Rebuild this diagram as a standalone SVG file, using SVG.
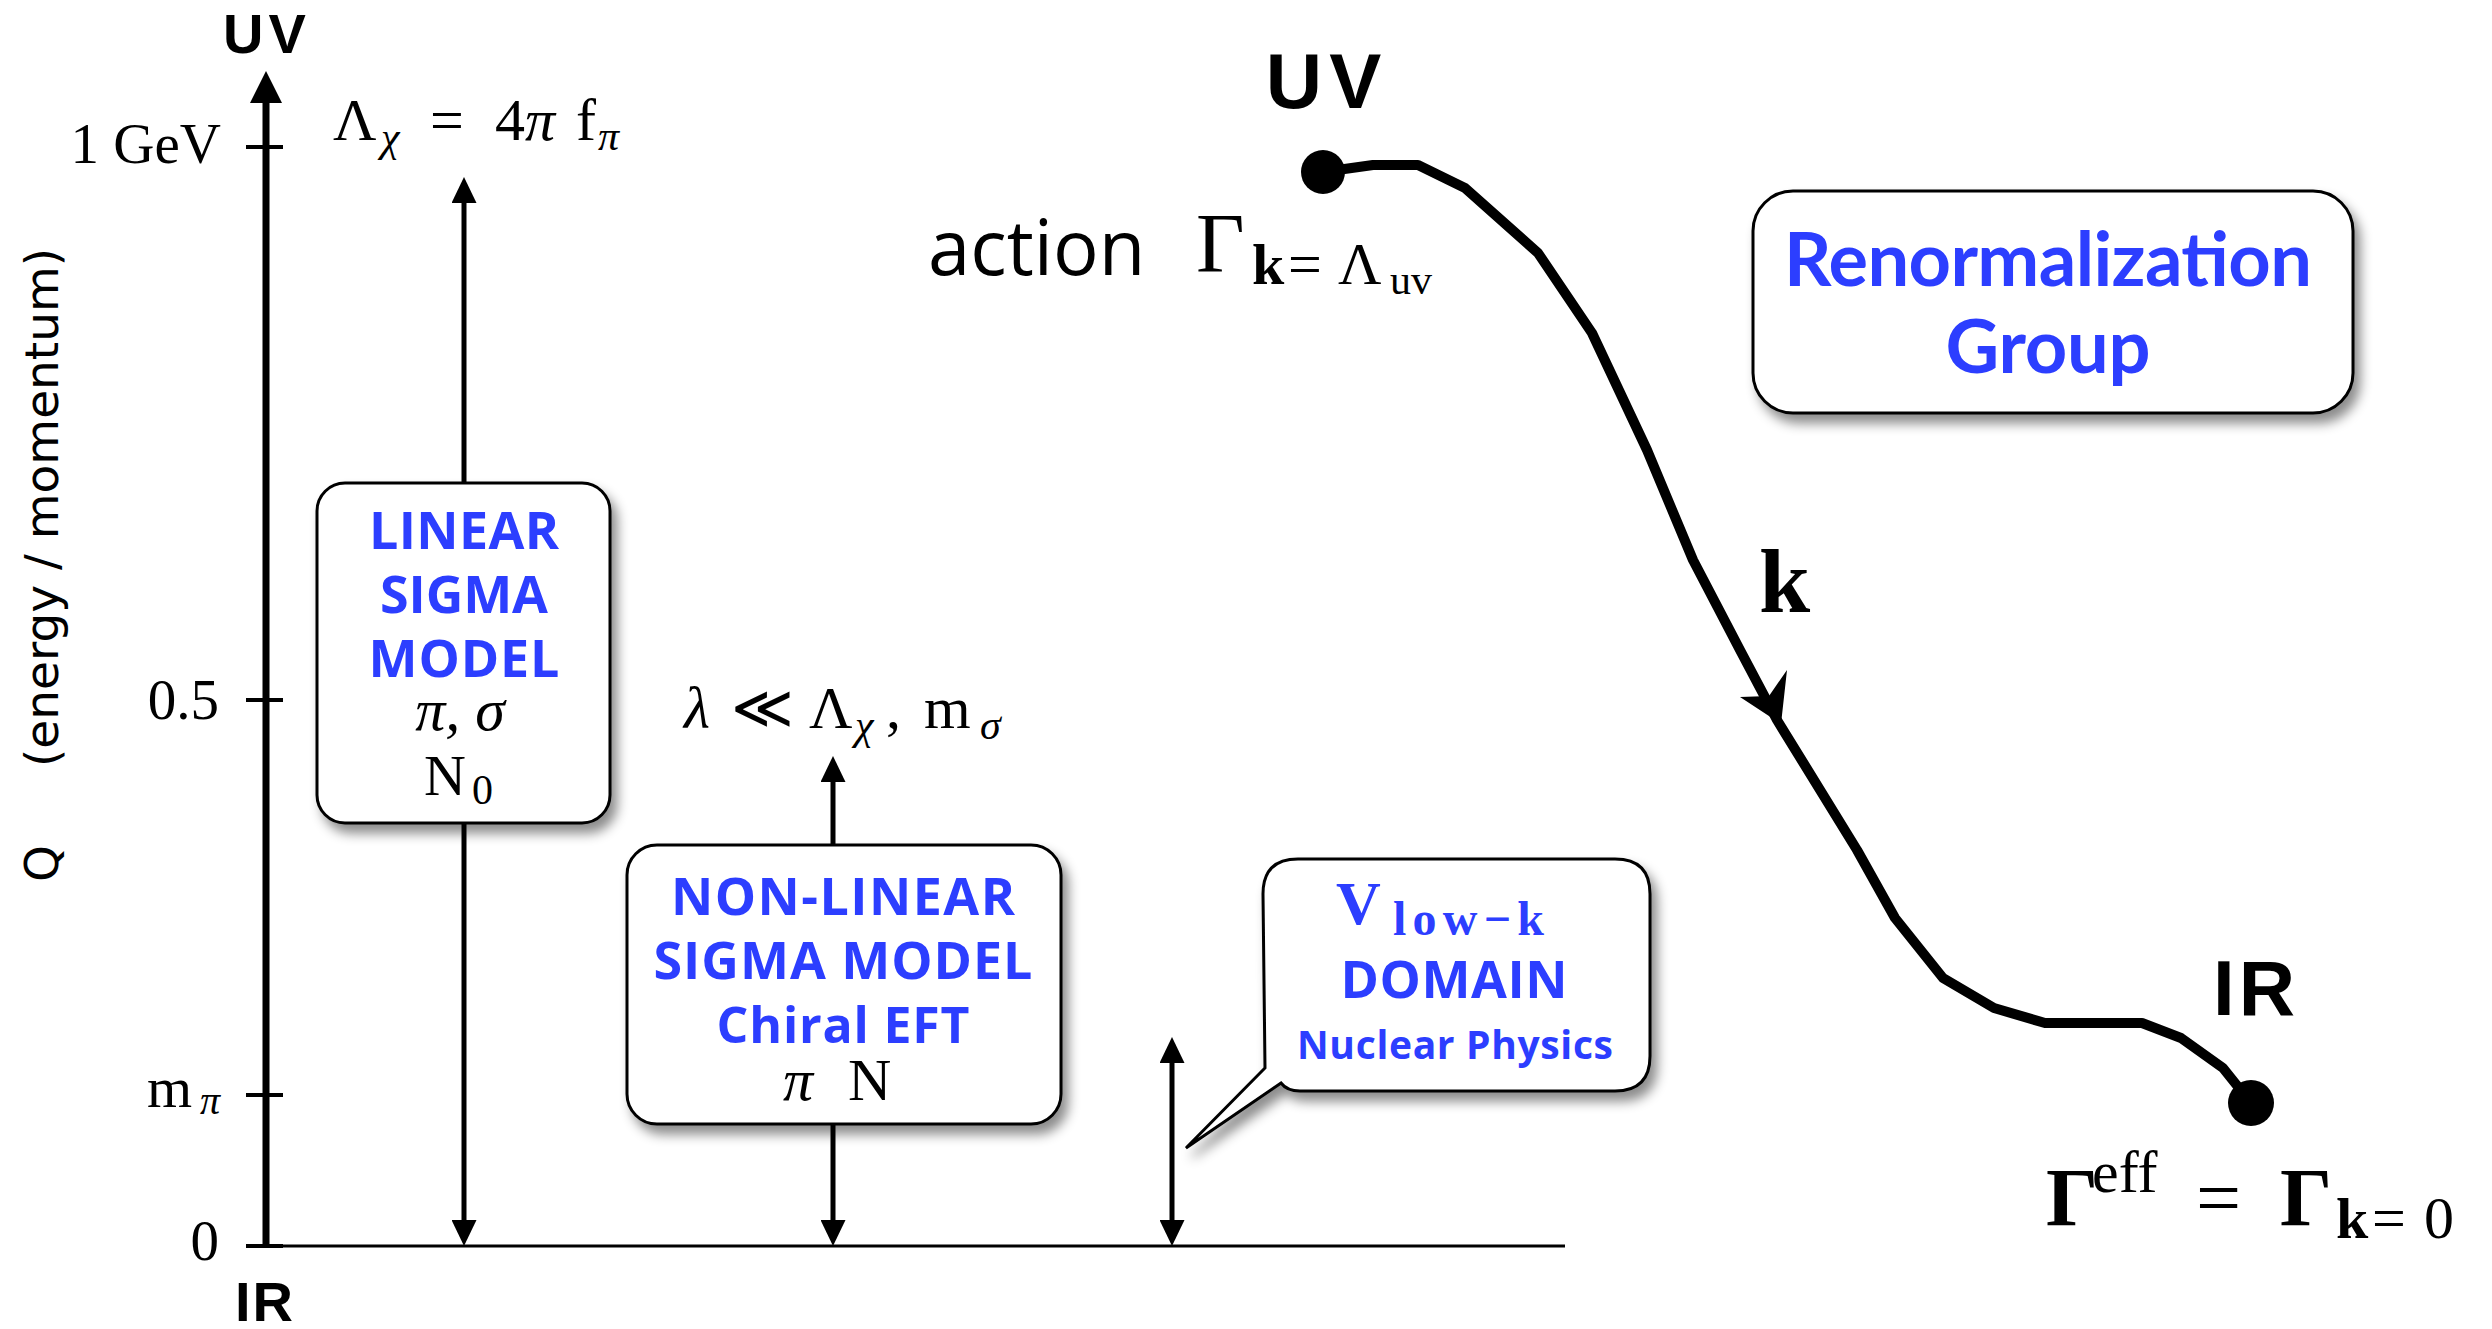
<svg xmlns="http://www.w3.org/2000/svg" width="2492" height="1329" viewBox="0 0 2492 1329">
<defs>
<style>
.ax{stroke:#000;fill:none}
.blue{fill:#2c3eff;font-family:"Open Sans",Lato,sans-serif;font-weight:700;text-anchor:middle}
.blue2{fill:#2c3eff;font-family:Lato,"Open Sans",sans-serif;font-weight:700;text-anchor:middle}
.math{font-family:"Liberation Serif","DejaVu Serif",serif;fill:#000}
.lbl{font-family:"Liberation Sans",Arial,sans-serif;font-weight:700;fill:#000;text-anchor:middle}
.box{fill:#fff;stroke:#000;stroke-width:3;filter:url(#sh)}
.tick{stroke:#000;stroke-width:4}
</style>
<filter id="sh" x="-10%" y="-10%" width="130%" height="130%"><feDropShadow dx="6" dy="9" stdDeviation="6" flood-color="#000" flood-opacity="0.45"/></filter>
<marker id="ah" markerUnits="userSpaceOnUse" markerWidth="26" markerHeight="25" refX="16" refY="12.5" orient="auto-start-reverse" viewBox="0 0 26 25"><path d="M0,0 L26,12.5 L0,25 z" fill="#000"/></marker>
<marker id="ahb" markerUnits="userSpaceOnUse" markerWidth="32" markerHeight="32" refX="22" refY="16" orient="auto-start-reverse" viewBox="0 0 32 32"><path d="M0,0 L32,16 L0,32 z" fill="#000"/></marker>
</defs>
<rect width="2492" height="1329" fill="#fff"/>

<g id="connectors">
<line class="ax" x1="266" y1="1246" x2="266" y2="81" stroke-width="7" marker-end="url(#ahb)"/>
<line class="ax" x1="266" y1="1246" x2="1565" y2="1246" stroke-width="3"/>
<line class="tick" x1="246" y1="147" x2="283" y2="147"/>
<line class="tick" x1="246" y1="700" x2="283" y2="700"/>
<line class="tick" x1="246" y1="1095" x2="283" y2="1095"/>
<line class="tick" x1="246" y1="1246" x2="283" y2="1246"/>
<line class="ax" x1="464" y1="187" x2="464" y2="1236" stroke-width="5" marker-start="url(#ah)" marker-end="url(#ah)"/>
<line class="ax" x1="833" y1="766" x2="833" y2="1236" stroke-width="5" marker-start="url(#ah)" marker-end="url(#ah)"/>
<line class="ax" x1="1172" y1="1047" x2="1172" y2="1236" stroke-width="5" marker-start="url(#ah)" marker-end="url(#ah)"/>
<polyline class="ax" stroke-width="10" stroke-linejoin="round" points="1323,172 1373,165 1418,165 1465,188 1538,253 1592,333 1647,450 1693,560 1740,650 1777,720 1857,850 1895,918 1943,978 1994,1008 2045,1023 2142,1023 2181,1038 2223,1068 2251,1103"/>
<polygon points="1781,724 1740,697 1769,696 1787,670" fill="#000"/>
</g>

<g id="axis-labels">
<text class="lbl" x="267" y="53" font-size="56" letter-spacing="5">UV</text>
<text class="lbl" x="265" y="1321" font-size="56" letter-spacing="2">IR</text>
<text class="math" x="221" y="163" font-size="57" text-anchor="end">1 GeV</text>
<text class="math" x="219" y="719" font-size="57" text-anchor="end">0.5</text>
<text class="math" x="219" y="1260" font-size="57" text-anchor="end">0</text>
<text class="math" font-size="58"><tspan x="147" y="1107">m</tspan><tspan x="200" y="1114" font-size="40" font-style="italic">π</tspan></text>
<text transform="translate(58,882) rotate(-90)" font-family="'DejaVu Sans',sans-serif" font-size="47" fill="#000">Q <tspan x="115">(energy / momentum)</tspan></text>
</g>

<g id="lambda-chi">
<text class="math" font-size="60"><tspan x="333" y="140">Λ</tspan><tspan x="381" y="151" font-size="42" font-style="italic">χ</tspan><tspan x="430" y="140">=</tspan><tspan x="495" y="140">4</tspan><tspan x="525" y="140" font-style="italic">π</tspan><tspan x="576" y="140">f</tspan><tspan x="598" y="150" font-size="42" font-style="italic">π</tspan></text>
</g>

<g id="lambda-cond">
<text class="math" font-size="60"><tspan x="684" y="728" font-style="italic">λ</tspan><tspan x="731" y="728">≪</tspan><tspan x="809" y="728">Λ</tspan><tspan x="855" y="739" font-size="42" font-style="italic">χ</tspan><tspan x="886" y="728">,</tspan><tspan x="924" y="728">m</tspan><tspan x="980" y="739" font-size="42" font-style="italic">σ</tspan></text>
</g>

<g id="linear-sigma">
<rect class="box" x="317" y="483" width="293" height="340" rx="28"/>
<text class="blue" x="464" y="549" font-size="52" textLength="190" lengthAdjust="spacing">LINEAR</text>
<text class="blue" x="464" y="613" font-size="52" textLength="168" lengthAdjust="spacing">SIGMA</text>
<text class="blue" x="464" y="677" font-size="52" textLength="191" lengthAdjust="spacing">MODEL</text>
<text class="math" x="460" y="730" font-size="60" font-style="italic" text-anchor="middle">π, σ</text>
<text class="math" font-size="58"><tspan x="424" y="795">N</tspan><tspan x="472" y="804" font-size="42">0</tspan></text>
</g>

<g id="non-linear-sigma">
<rect class="box" x="627" y="845" width="434" height="279" rx="30"/>
<text class="blue" x="843" y="915" font-size="52" textLength="344" lengthAdjust="spacing">NON-LINEAR</text>
<text class="blue" x="843" y="979" font-size="52" textLength="379" lengthAdjust="spacing">SIGMA MODEL</text>
<text class="blue" x="843" y="1043" font-size="50" textLength="253" lengthAdjust="spacing">Chiral EFT</text>
<text class="math" font-size="60"><tspan x="783" y="1100" font-style="italic">π</tspan><tspan x="848" y="1100">N</tspan></text>
</g>

<g id="vlowk-domain">
<path class="box" d="M1298,859 H1615 Q1650,859 1650,894 V1056 Q1650,1091 1615,1091 H1300 Q1287,1091 1281,1083 L1186,1148 L1265,1068 L1263,894 Q1263,859 1298,859 Z"/>
<text class="math" style="fill:#2c3eff" font-weight="700"><tspan x="1336" y="924" font-size="62">V</tspan><tspan x="1393" y="935" font-size="48" textLength="151" lengthAdjust="spacing">low−k</tspan></text>
<text class="blue" x="1454" y="998" font-size="52" textLength="227" lengthAdjust="spacing">DOMAIN</text>
<text class="blue" x="1455" y="1059" font-size="39" textLength="316" lengthAdjust="spacing">Nuclear Physics</text>
</g>

<g id="rg-box">
<rect class="box" x="1753" y="191" width="600" height="222" rx="40"/>
<text class="blue2" x="2048" y="286" font-size="74" textLength="528" lengthAdjust="spacing">Renormalization</text>
<text class="blue2" x="2048" y="373" font-size="74" textLength="205" lengthAdjust="spacing">Group</text>
</g>

<g id="uv-point">
<circle cx="1323" cy="172" r="22" fill="#000"/>
<text class="lbl" x="1327" y="108" font-size="78" letter-spacing="7">UV</text>
<text x="928" y="275" font-family="'Open Sans',sans-serif" font-size="76" fill="#000">action</text>
<text class="math"><tspan x="1196" y="272" font-size="84">Γ</tspan><tspan x="1252" y="284" font-size="58" font-weight="700">k</tspan><tspan x="1288" y="284" font-size="60">=</tspan><tspan x="1338" y="284" font-size="60">Λ</tspan><tspan x="1390" y="294" font-size="42">uv</tspan></text>
</g>

<g id="k-label">
<text class="math" x="1759" y="612" font-size="92" font-weight="700">k</text>
</g>

<g id="ir-point">
<circle cx="2251" cy="1103" r="23" fill="#000"/>
<text class="lbl" x="2256" y="1015" font-size="78" letter-spacing="4">IR</text>
<text class="math"><tspan x="2046" y="1225" font-size="82" font-weight="700">Γ</tspan><tspan x="2092" y="1192" font-size="60">eff</tspan><tspan x="2196" y="1225" font-size="80">=</tspan><tspan x="2280" y="1225" font-size="82" font-weight="700">Γ</tspan><tspan x="2336" y="1238" font-size="58" font-weight="700">k</tspan><tspan x="2372" y="1238" font-size="60">=</tspan><tspan x="2424" y="1238" font-size="60">0</tspan></text>
</g>
</svg>
